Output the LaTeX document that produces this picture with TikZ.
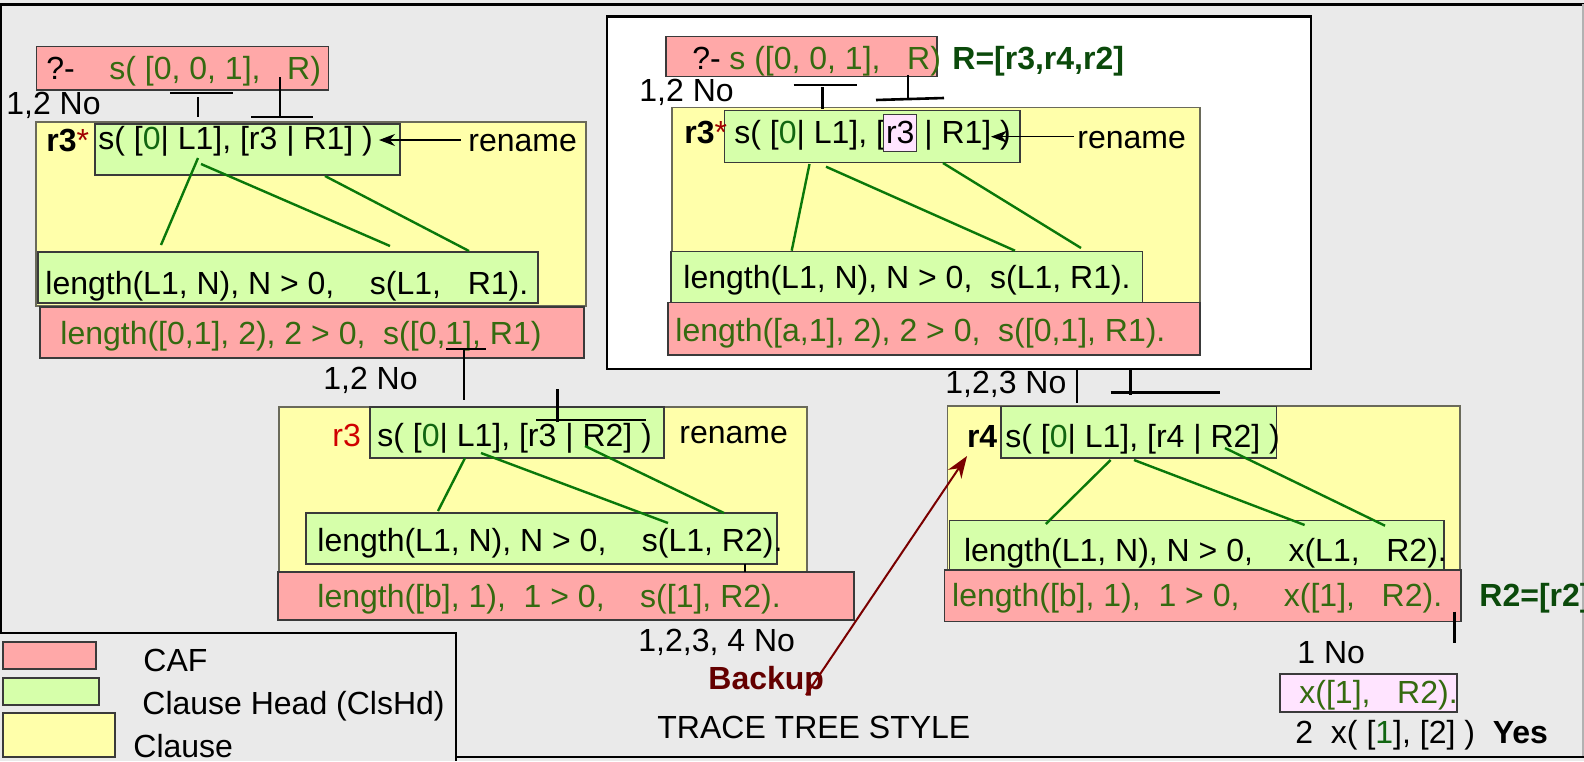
\documentclass[tikz,border=0pt]{standalone}
\usepackage{fontspec}
\setmainfont{Liberation Sans}
\usetikzlibrary{fit,arrows.meta}

\definecolor{bggray}{HTML}{EAEAEA}
\definecolor{cafpink}{HTML}{FFA8A8}
\definecolor{headgreen}{HTML}{D6FFAA}
\definecolor{clauseyellow}{HTML}{FFFFAA}
\definecolor{lavender}{HTML}{FFE4FF}
\definecolor{boxline}{HTML}{3A3A3A}
\definecolor{clauseline}{HTML}{6A6A5A}
\definecolor{termgreen}{HTML}{356A10}
\definecolor{zerogreen}{HTML}{116611}
\definecolor{answergreen}{HTML}{0B4A0B}
\definecolor{linegreen}{HTML}{0A780A}
\definecolor{backred}{HTML}{7A0000}
\definecolor{backtext}{HTML}{640000}
\definecolor{rulered}{HTML}{D00000}
\definecolor{starred}{HTML}{A00000}

\tikzset{
  every node/.style={font=\fontsize{16pt}{19pt}\selectfont},
  txt/.style={inner sep=0pt, anchor=west, text height=11.46pt, text depth=0pt},
  gtxt/.style={txt, text=termgreen},
  plainbox/.style={inner sep=0pt, draw=boxline, line width=0.6pt},
  cafbox/.style={plainbox, fill=cafpink},
  headbox/.style={plainbox, fill=headgreen},
  clausebox/.style={plainbox, fill=clauseyellow, draw=clauseline},
  querybox/.style={plainbox, fill=lavender},
  tick/.style={line width=1.3pt, black},
  gline/.style={line width=1.2pt, linegreen},
  renarrow/.style={line width=0.6pt, -{Stealth[length=8pt,width=6pt]}},
  backarrow/.style={line width=1pt, backred, -{Stealth[length=11pt,width=8pt]}},
  frame/.style={line width=1.3pt, black}
}
\newcommand{\hlterm}[1]{{\setlength{\fboxsep}{1pt}\setlength{\fboxrule}{0.5pt}\fcolorbox{boxline}{lavender}{\rule[-2.9pt]{0pt}{16pt}#1}}}

\begin{document}
\begin{tikzpicture}[x=0.5pt,y=-0.5pt]
% page and frames
\fill[bggray] (0,0) rectangle (1584,761);
\useasboundingbox (0,0) rectangle (1584,761);
\draw[frame] (0,4.3) -- (1584,4.3);
\draw[line width=1.2pt] (1,4.3) -- (1,633);
\draw[gray!60, line width=1pt] (1583,4.3) -- (1583,757);
\draw[frame] (456,757) -- (1584,757);

% ---------------- left trace ----------------
\node[cafbox, fit={(36.4,46.7) (328.4,90)}] (q1) {};
\node[txt] (q1a) at (46,68) {?-};
\node[gtxt] (q1b) at (109,68) {s( [0, 0, 1],~~~R)};
\node[txt] (no1) at (6,103) {1,2 No};

\node[clausebox, fit={(36,122) (586,306)}] (cl1) {};
\node[headbox, fit={(95,124) (400,175)}] (hd1) {};
\node[headbox, fit={(38,252) (538,303)}] (bd1) {};
\node[cafbox, fit={(40,307) (584,358)}] (caf1) {};

\draw[tick] (170,93) -- (233,93);
\draw[tick] (198,97) -- (198,117);
\draw[tick] (280,77) -- (280,117);
\draw[tick] (251,117) -- (313,117);

\node[txt] (r3a) at (46,140) {\textbf{r3}\textcolor{starred}{*}};
\node[txt] (hd1t) at (98,138) {s( [\textcolor{zerogreen}{0}| L1], [r3 | R1] )};
\node[txt] (ren1) at (468,140) {rename};
\coordinate (ren1tip) at (379,140);
\draw[renarrow] ([xshift=-3.5pt]ren1.west) -- (ren1tip);

\draw[gline] (198,158) -- (161,245);
\draw[gline] (201,164) -- (390,246);
\draw[gline] (325,176) -- (469,251);

\node[txt] (bd1t) at (45,283) {length(L1, N), N > 0,~~~~s(L1,~~~R1).};
\node[gtxt] (caf1t) at (60,333) {length([0,1], 2), 2 > 0,~~s([0,1], R1)};

\draw[tick] (446,349) -- (486,349);
\draw[tick] (464,349) -- (464,400);
\node[txt] (no2) at (323,378) {1,2 No};

% second clause
\node[clausebox, fit={(279,407) (807,572)}] (cl2) {};
\node[headbox, fit={(370,407) (664,458)}] (hd2) {};
\node[headbox, fit={(306,513) (777,564)}] (bd2) {};
\node[cafbox, fit={(278,572) (854,620)}] (caf2) {};

\node[txt] (r3b) at (332,435) {\textcolor{rulered}{r3}};
\node[txt] (hd2t) at (377,435) {s( [\textcolor{zerogreen}{0}| L1], [r3 | R2] )};
\node[txt] (ren2) at (679,432) {rename};
\draw[tick] (557.7,389) -- (557.7,422);
\draw[tick] (536,420) -- (646,420);

\draw[gline] (465,458) -- (438,511);
\draw[gline] (481,453) -- (668,523);
\draw[gline] (585,446) -- (724,513);

\node[txt] (bd2t) at (317,540) {length(L1, N), N > 0,~~~~s(L1, R2).};
\draw[tick] (745,564) -- (745,572);
\node[gtxt] (caf2t) at (317,596) {length([b], 1),~~1 > 0,~~~~s([1], R2).};

\node[txt] (no3) at (638,640) {1,2,3, 4 No};
\node[txt, text=backtext] (backup) at (708,678) {\textbf{Backup}};
\node[txt] (title) at (657,727) {TRACE TREE STYLE};

% ---------------- inset: the same query, answered ----------------
\node[draw, line width=1.3pt, fill=white, inner sep=0pt, fit={(607,16.5) (1311,369)}] (inset) {};
\node[cafbox, fit={(666,36.7) (937,76.7)}] (q2) {};
\node[txt] (q2a) at (692,58) {?-};
\node[gtxt] (q2b) at (729,58) {s ([0, 0, 1],~~~R)};
\node[txt, text=answergreen] (ans) at (952,58) {\textbf{R=[r3,r4,r2]}};
\node[txt] (no4) at (639,90) {1,2 No};

\node[clausebox, fit={(672,107.7) (1200,302.7)}] (cl3) {};
\node[headbox, fit={(724.4,110.7) (1020,162.7)}] (hd3) {};
\node[headbox, fit={(671,251.7) (1142.4,302.7)}] (bd3) {};
\node[cafbox, fit={(668,302.7) (1200,355)}] (caf3) {};

\draw[tick] (793.6,85) -- (857,85);
\draw[tick] (822.5,87) -- (822.5,109);
\draw[tick] (908,75) -- (908,98);
\draw[tick] (876,100) -- (944,98);

\node[txt] (r3c) at (684,131.7) {\textbf{r3}\textcolor{starred}{*}};
\node[txt] (hd3t) at (734,131.7) {s( [\textcolor{zerogreen}{0}| L1], [\kern-1pt\hlterm{r3}\kern-1pt{} | R1] )};
\node[txt] (ren3) at (1077,136.7) {rename};
\coordinate (ren3tip) at (991,136.7);
\draw[renarrow] ([xshift=-1.5pt]ren3.west) -- (ren3tip);

\draw[gline] (809.5,164) -- (791.7,250.7);
\draw[gline] (826,166.7) -- (1015,250.7);
\draw[gline] (943,163) -- (1081,248);

\node[txt] (bd3t) at (683,276.7) {length(L1, N), N > 0,~~s(L1, R1).};
\node[gtxt] (caf3t) at (675,330) {length([a,1], 2), 2 > 0,~~s([0,1], R1).};

% ---------------- right trace ----------------
\node[txt] (no5) at (945,382) {1,2,3 No};
\draw[tick] (1077,370) -- (1077,403);
\draw[tick] (1130.5,370) -- (1130.5,395);
\draw[tick] (1110.6,392.7) -- (1219.5,392.7);

\node[clausebox, fit={(947.5,406) (1460,570)}] (cl4) {};
\node[headbox, fit={(1001,406.7) (1276.6,458)}] (hd4) {};
\node[headbox, fit={(949.6,520.7) (1444,570.7)}] (bd4) {};
\node[cafbox, fit={(944.6,570) (1461,621.7)}] (caf4) {};

\node[txt] (r4) at (966.6,436) {\textbf{r4}};
\node[txt] (hd4t) at (1005,436) {s( [\textcolor{zerogreen}{0}| L1], [r4 | R2] )};

\draw[gline] (1110.6,460) -- (1045.8,524);
\draw[gline] (1134,460) -- (1304.6,525);
\draw[gline] (1225,448) -- (1385,525.7);

\node[txt] (bd4t) at (963.6,550) {length(L1, N), N > 0,~~~~x(L1,~~~R2).};
\node[gtxt] (caf4t) at (951.8,595) {length([b], 1),~~1 > 0,~~~~~x([1],~~~R2).};
\node[txt, text=answergreen] (ans2) at (1479,595) {\textbf{R2=[r2]}};

\draw[tick] (1454.5,611.7) -- (1454.5,642.7);
\node[txt] (no6) at (1297,651.7) {1 No};
\node[querybox, fit={(1280,674) (1457,712)}] (last) {};
\node[gtxt] (lastt) at (1299,691.7) {x([1],~~~R2).};
\node[txt] (yes) at (1295,731.7) {2~~x( [\textcolor{zerogreen}{1}], [2] )~~\textbf{Yes}};

% backtracking arrow
\coordinate (bk0) at (806,695);
\coordinate (r4tip) at (967,456);
\draw[backarrow] (bk0) -- (r4tip);

% ---------------- legend ----------------
\fill[bggray] (0,633) rectangle (456,761);
\draw[frame] (0,633) -- (456,633) -- (456,761);
\node[cafbox, fit={(3,642) (96,669)}] (lgcaf) {};
\node[headbox, fit={(3,678) (99,705)}] (lghead) {};
\node[clausebox, draw=boxline, fit={(3,713) (115,757)}] (lgclause) {};
\node[txt] (lgcaft) at (143,660) {CAF};
\node[txt] (lgheadt) at (142,703) {Clause Head (ClsHd)};
\node[txt] (lgclauset) at (133,746) {Clause};
\end{tikzpicture}
\end{document}
